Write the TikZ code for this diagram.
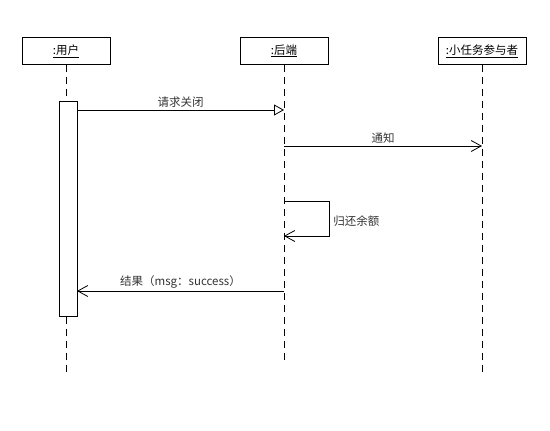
\documentclass[tikz,border=0pt]{standalone}
\usepackage{fontspec}
\setmainfont{Noto Sans CJK SC}
\usetikzlibrary{arrows.meta,positioning}

\begin{document}
\begin{tikzpicture}[x=1pt,y=-1pt,font=\fontsize{11.5}{13}\selectfont,
  box/.style={draw,line width=0.8pt,minimum width=88pt,minimum height=27pt,inner sep=1pt},
  bar/.style={draw,fill=white,line width=0.8pt,minimum width=18pt,minimum height=215pt,inner sep=0pt},
  life/.style={line width=0.8pt,dash pattern=on 7pt off 5pt},
  msg/.style={line width=0.8pt,-{Straight Barb[length=10pt,width=11pt,line width=0.8pt]}},
  call/.style={line width=0.8pt,-{Triangle[open,length=10pt,width=11pt,line width=0.8pt]}},
  lbl/.style={text=black!80,inner sep=1pt}]
\useasboundingbox (0,0) rectangle (550,431);
\node[box](U) at (66,51){\underline{:用户}};
\node[box](B) at (284,51){\underline{:后端}};
\node[box](P) at (482,51){\underline{:小任务参与者}};
\coordinate(Uend) at (66,372);
\coordinate(Bend) at (284,362);
\coordinate(Pend) at (482,372);
\draw[life](U)--(Uend);
\draw[life](B)--(Bend);
\draw[life](P)--(Pend);
\node[bar](act) at (68,208.5){};
% messages
\coordinate(m1s) at (77,110);
\coordinate(m1e) at (284,110);
\draw[call](m1s)--node[lbl,above=1pt]{请求关闭}(m1e);
\coordinate(m2s) at (284,146);
\coordinate(m2e) at (482,146);
\draw[msg](m2s)--node[lbl,above=1pt]{通知}(m2e);
\coordinate(m3s) at (284,201);
\coordinate(m3e) at (284,236);
\draw[msg](m3s)--(329,201)--node[lbl,right=3pt,yshift=-3pt]{归还余额}(329,236)--(m3e);
\coordinate(m4s) at (284,291);
\coordinate(m4e) at (77,291);
\draw[msg](m4s)--node[lbl,above=1pt]{结果（msg：success）}(m4e);
\end{tikzpicture}
\end{document}
